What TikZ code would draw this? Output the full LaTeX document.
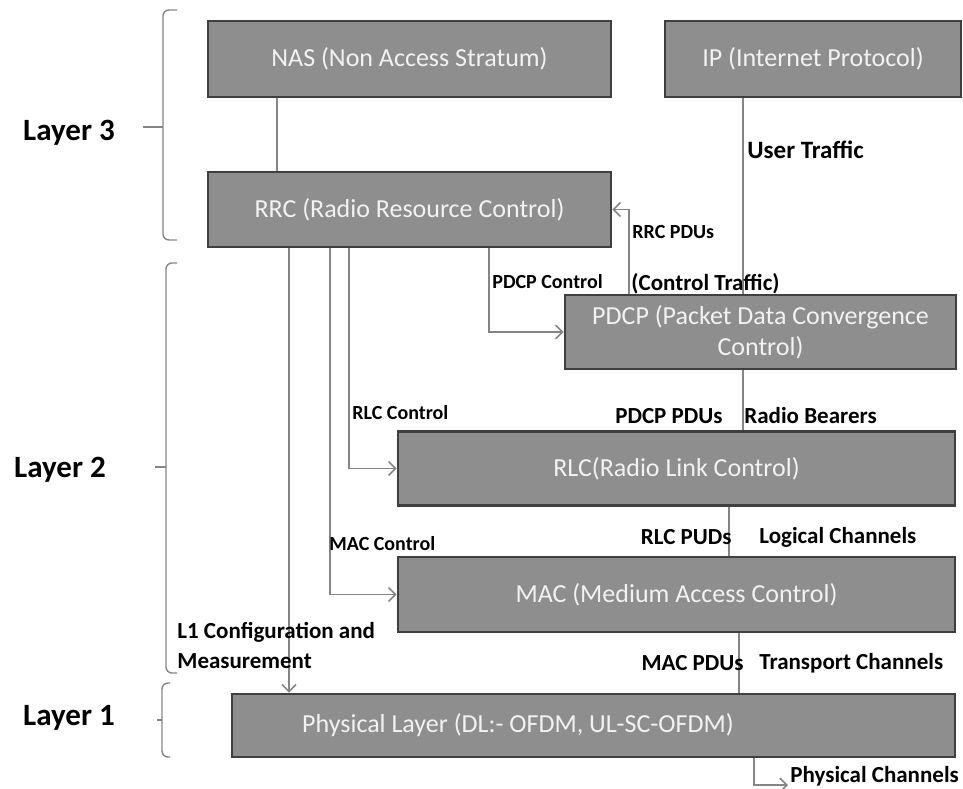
\documentclass[tikz,border=0pt]{standalone}
\usepackage{fontspec}
\setmainfont{Carlito}
\usetikzlibrary{arrows.meta}
\definecolor{boxfill}{HTML}{8E8E8E}
\definecolor{boxedge}{HTML}{3F3F3F}
\definecolor{boxtext}{HTML}{F2F2F2}
\definecolor{wire}{HTML}{858585}

\begin{document}
\begin{tikzpicture}[x=0.5pt, y=-0.5pt,
	blk/.style={draw=boxedge, line width=1.3pt, fill=boxfill, text=boxtext,
		font=\fontsize{13}{15.5}\selectfont, inner sep=0pt, align=center},
	sz/.style 2 args={minimum width=#1*0.5pt, minimum height=#2*0.5pt},
	wire/.style={draw=wire, line width=0.8pt},
	arr/.style={wire, -{Straight Barb[length=3.5pt,width=7pt]}},
	lbl/.style={font=\bfseries\fontsize{11.5}{15}\selectfont, inner sep=0pt},
	slbl/.style={font=\bfseries\fontsize{10}{12}\selectfont, inner sep=0pt},
	layertxt/.style={font=\bfseries\fontsize{15.5}{18}\selectfont, inner sep=0pt},
	brace/.style={draw=wire, line width=0.7pt, rounded corners=3pt}]
		% Drawing units are pixels of the 963x788 sheet, y pointing down.
		\useasboundingbox (0,0) rectangle (963,788);

		% The protocol blocks.
		\node[blk, sz={403}{76}] (nas) at (409.5,59) {NAS (Non Access Stratum)};
		\node[blk, sz={296}{76}] (ip) at (813,59) {IP (Internet Protocol)};
		\node[blk, sz={403}{75}] (rrc) at (409.5,209.5)
			{RRC (Radio Resource Control)};
		\node[blk, sz={391}{74}] (pdcp) at (760.5,332)
			{PDCP (Packet Data Convergence\\Control)};
		\node[blk, sz={557}{74}] (rlc) at (676.5,468.5) {RLC(Radio Link Control)};
		\node[blk, sz={557}{75}] (mac) at (676.5,594.5)
			{MAC (Medium Access Control)};
		\node[blk, sz={723}{63}] (phy) at (593.5,725.5) {};
		\node[blk, draw=none, fill=none] (phytxt) at (518,725.5)
			{Physical Layer (DL:- OFDM, UL-SC-OFDM)};

		% Columns of the vertical wires.
		\coordinate (xnas) at (277,0);
		\coordinate (xl1) at (289,0);
		\coordinate (xmac) at (330,0);
		\coordinate (xrlc) at (349,0);
		\coordinate (xpdcp) at (489,0);
		\coordinate (xpdu) at (629,0);
		\coordinate (xuser) at (743,0);
		\coordinate (xlog) at (729,0);
		\coordinate (xtrans) at (739,0);
		\coordinate (xphy) at (754,0);
		\coordinate (phyout) at (788,785);

		% Control paths leave RRC, data paths run down the right.
		\draw[wire] (nas.south -| xnas) -- (rrc.north -| xnas);
		\draw[wire] (ip.south -| xuser) -- (pdcp.north -| xuser);
		\draw[arr] (rrc.south -| xl1) -- (phy.north -| xl1);
		\draw[arr] (rrc.south -| xmac) |- (mac.west);
		\draw[arr] (rrc.south -| xrlc) |- (rlc.west);
		\draw[arr] (rrc.south -| xpdcp) |- (pdcp.west);
		\draw[arr] (pdcp.north -| xpdu) |- (rrc.east);
		\draw[wire] (pdcp.south -| xuser) -- (rlc.north -| xuser);
		\draw[wire] (rlc.south -| xlog) -- (mac.north -| xlog);
		\draw[wire] (mac.south -| xtrans) -- (phy.north -| xtrans);
		\draw[arr] (phy.south -| xphy) |- (phyout);

		% Wire labels.
		\node[lbl, font=\bfseries\fontsize{12.5}{15}\selectfont, anchor=west]
			(usertr) at (747,150) {User Traffic};
		\node[slbl, anchor=west] (rrcpdu) at (632,232) {RRC PDUs};
		\node[lbl, anchor=west] (ctrltr) at (631,284) {(Control Traffic)};
		\node[slbl, anchor=west] (pdcpctl) at (492,282) {PDCP Control};
		\node[slbl, anchor=west] (rlcctl) at (352,413) {RLC Control};
		\node[slbl, anchor=west] (macctl) at (329,544) {MAC Control};
		\node[lbl, anchor=east] (pdcppdu) at (723,416) {PDCP PDUs};
		\node[lbl, anchor=west] (radiob) at (744,416) {Radio Bearers};
		\node[lbl, anchor=east] (rlcpud) at (732,537) {RLC PUDs};
		\node[lbl, anchor=west] (logch) at (759,537) {Logical Channels};
		\node[lbl, anchor=east] (macpdu) at (744,663) {MAC PDUs};
		\node[lbl, anchor=west] (trch) at (759,663) {Transport Channels};
		\node[lbl, anchor=west] (phych) at (790,776) {Physical Channels};
		\node[lbl, anchor=west, align=left] (l1cfg) at (177,645)
			{L1 Configuration and\\Measurement};

		% Layer brackets on the left.
		\draw[brace] (177,10) -| (163,240) -- (177,240);
		\draw[brace] (163,127) -- (143,127);
		\draw[brace] (177,263) -| (166,673) -- (177,673);
		\draw[brace] (166,467) -- (155,467);
		\draw[brace] (170,683) -| (162,757) -- (170,757);
		\draw[brace] (162,720) -- (157,720);
		\node[layertxt] (lay3) at (69,133) {Layer 3};
		\node[layertxt] (lay2) at (60,470) {Layer 2};
		\node[layertxt] (lay1) at (69,718) {Layer 1};
	\end{tikzpicture}
\end{document}
